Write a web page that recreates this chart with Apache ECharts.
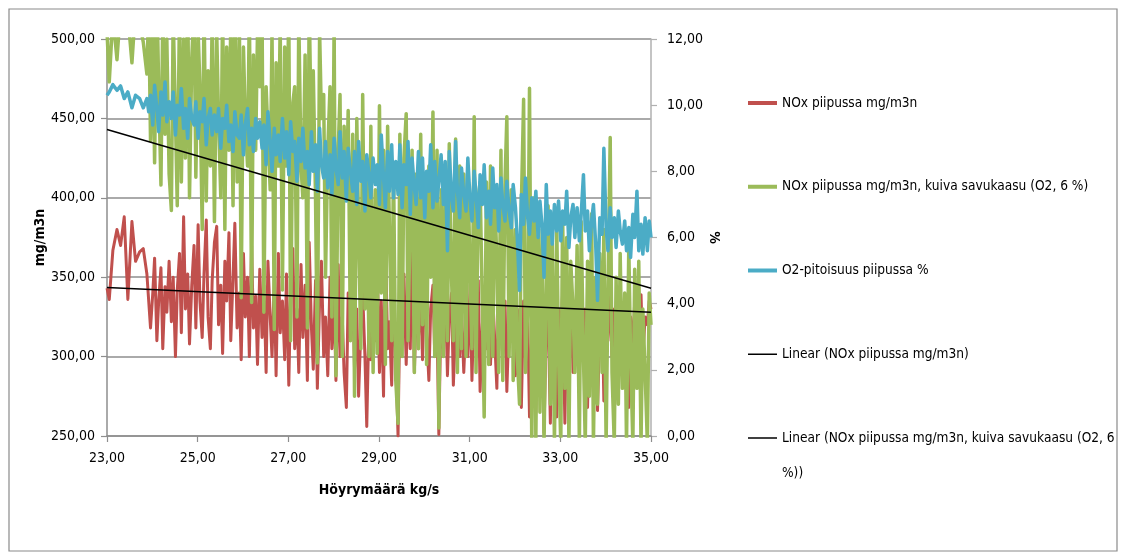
<!DOCTYPE html>
<html>
<head>
<meta charset="utf-8">
<script src="https://cdn.jsdelivr.net/npm/echarts@6/dist/echarts.min.js"></script>
<style>
  html, body { margin: 0; padding: 0; background: #ffffff; }
  #chart { width: 1123px; height: 557px; }
</style>
</head>
<body>
<div id="chart"></div>
<script>
// Steam flow (kg/s) at each sample
const steamFlow = [
  23.00, 23.05, 23.13, 23.22, 23.30, 23.38, 23.46, 23.55, 23.63, 23.72, 23.80, 23.88,
  23.92, 23.96, 24.01, 24.05, 24.10, 24.14, 24.19, 24.23, 24.28, 24.32, 24.37,
  24.42, 24.46, 24.51, 24.55, 24.60, 24.64, 24.69, 24.73, 24.78, 24.82, 24.87,
  24.92, 24.96, 25.01, 25.05, 25.10, 25.14, 25.19, 25.23, 25.28, 25.32, 25.37,
  25.42, 25.46, 25.51, 25.55, 25.60, 25.64, 25.69, 25.73, 25.78, 25.82, 25.87,
  25.92, 25.96, 26.01, 26.05, 26.10, 26.14, 26.19, 26.23, 26.28, 26.32, 26.37,
  26.42, 26.46, 26.51, 26.55, 26.60, 26.64, 26.69, 26.73, 26.78, 26.82, 26.87,
  26.92, 26.96, 27.01, 27.05, 27.10, 27.14, 27.19, 27.23, 27.28, 27.32, 27.37,
  27.42, 27.46, 27.51, 27.55, 27.60, 27.64, 27.69, 27.73, 27.78, 27.82, 27.87,
  27.92, 27.96, 28.01, 28.05, 28.10, 28.14, 28.19, 28.23, 28.28, 28.32, 28.37,
  28.42, 28.46, 28.51, 28.55, 28.60, 28.64, 28.69, 28.73, 28.78, 28.82, 28.87,
  28.92, 28.96, 29.01, 29.05, 29.10, 29.14, 29.19, 29.23, 29.28, 29.32, 29.37,
  29.42, 29.46, 29.51, 29.55, 29.60, 29.64, 29.69, 29.73, 29.78, 29.82, 29.87,
  29.92, 29.96, 30.01, 30.05, 30.10, 30.14, 30.19, 30.23, 30.28, 30.32, 30.37,
  30.42, 30.46, 30.51, 30.55, 30.60, 30.64, 30.69, 30.73, 30.78, 30.82, 30.87,
  30.92, 30.96, 31.01, 31.05, 31.10, 31.14, 31.19, 31.23, 31.28, 31.32, 31.37,
  31.42, 31.46, 31.51, 31.55, 31.60, 31.64, 31.69, 31.73, 31.78, 31.82, 31.87,
  31.92, 31.96, 32.01, 32.05, 32.10, 32.14, 32.19, 32.23, 32.28, 32.32, 32.37,
  32.42, 32.46, 32.51, 32.55, 32.60, 32.64, 32.69, 32.73, 32.78, 32.82, 32.87,
  32.92, 32.96, 33.01, 33.05, 33.10, 33.14, 33.19, 33.23, 33.28, 33.32, 33.37,
  33.42, 33.46, 33.51, 33.55, 33.60, 33.64, 33.69, 33.73, 33.78, 33.82, 33.87,
  33.92, 33.96, 34.01, 34.05, 34.10, 34.14, 34.19, 34.23, 34.28, 34.32, 34.37,
  34.42, 34.46, 34.51, 34.55, 34.60, 34.64, 34.69, 34.73, 34.78, 34.82, 34.87,
  34.92, 34.96, 35.00
];

// NOx in the stack, mg/m3n
const noxStack = [
  343, 336, 367, 380, 370, 388, 336, 385, 360, 366, 368, 352,
  352, 318, 340, 362, 310, 335, 356, 305, 344, 328, 360,
  322, 350, 300, 342, 365, 315, 388, 330, 352, 308, 345,
  370, 318, 383, 335, 312, 352, 386, 325, 305, 348, 372,
  382, 320, 345, 302, 360, 335, 378, 310, 350, 384, 318,
  340, 298, 365, 325, 350, 300, 370, 318, 338, 295, 355,
  312, 345, 290, 360, 325, 300, 348, 288, 365, 315, 335,
  298, 352, 282, 340, 368, 305, 330, 290, 358, 312, 345,
  285, 372, 318, 292, 348, 280, 335, 360, 300, 325, 288,
  350, 305, 338, 285, 358, 300, 325, 290, 268, 340, 312,
  345, 292, 330, 275, 318, 340, 300, 256, 325, 298, 338,
  310, 360, 290, 335, 275, 378, 305, 322, 282, 345, 300,
  250, 330, 310, 352, 295, 340, 305, 373, 290, 330, 312,
  340, 298, 352, 315, 285, 330, 345, 300, 320, 251, 335,
  305, 348, 288, 325, 340, 282, 318, 350, 300, 330, 290,
  325, 300, 345, 285, 335, 312, 348, 278, 320, 340, 305,
  330, 295, 338, 312, 280, 345, 318, 300, 335, 278, 325,
  310, 340, 288, 330, 318, 268, 335, 300, 325, 262, 315,
  338, 265, 325, 300, 340, 252, 320, 330, 258, 335, 310,
  262, 330, 315, 340, 258, 325, 305, 338, 290, 320, 335,
  318, 335, 300, 330, 268, 325, 348, 310, 332, 266, 320,
  335, 272, 325, 310, 340, 300, 330, 285, 334, 315, 328,
  310, 330, 268, 325, 305, 335, 337, 315, 339, 300, 325,
  320, 335, 330
];

// NOx in the stack, dry flue gas at O2 6 %, mg/m3n
const noxDry = [
  505, 473, 515, 487, 520, 510, 515, 485, 520, 510, 498, 478,
  520, 436, 505, 422, 530, 470, 408, 515, 440, 500, 415,
  392, 515, 450, 395, 520, 410, 500, 425, 530, 400, 488,
  520, 413, 505, 470, 380, 525, 398, 480, 420, 515, 385,
  505, 450, 400, 520, 380, 495, 430, 510, 395, 525, 410,
  510, 337, 495, 450, 420, 520, 334, 490, 430, 505, 470,
  520, 328, 470, 440, 405, 505, 317, 485, 420, 510, 342,
  495, 420, 520, 310, 460, 470, 325, 515, 420, 400, 490,
  318, 525, 430, 480, 400, 296, 505, 450, 465, 350, 430,
  470, 325, 510, 288, 430, 465, 300, 445, 400, 455, 310,
  440, 275, 450, 380, 305, 465, 330, 420, 300, 445, 290,
  405, 302, 458, 340, 430, 295, 445, 380, 310, 420, 285,
  258, 440, 300, 425, 453, 310, 390, 430, 290, 415, 305,
  440, 320, 410, 295, 420, 350, 454, 300, 430, 255, 405,
  300, 410, 310, 434, 350, 310, 437, 290, 420, 305, 415,
  300, 420, 350, 305, 451, 290, 400, 410, 330, 262, 410,
  295, 420, 300, 405, 360, 290, 430, 285, 410, 451, 300,
  405, 285, 380, 300, 270, 395, 462, 290, 330, 469, 245,
  400, 248, 390, 265, 380, 245, 340, 395, 270, 375, 245,
  385, 300, 245, 390, 280, 375, 245, 360, 330, 290, 370,
  245, 385, 300, 245, 360, 275, 390, 245, 350, 270, 365,
  290, 380, 245, 340, 438, 290, 245, 350, 270, 365, 280,
  340, 245, 370, 300, 245, 355, 280, 360, 245, 330, 290,
  245, 340, 320
];

// O2 content in the stack, %
const o2Stack = [
  10.30, 10.40, 10.62, 10.45, 10.58, 10.20, 10.40, 9.92, 10.30, 10.20, 9.92, 10.20,
  9.8, 10.3, 9.4, 10.6, 9.9, 9.2, 10.4, 9.7, 10.7, 9.5, 10.1,
  9.6, 10.4, 9.1, 10.0, 9.7, 10.5, 9.3, 9.9, 9.0, 10.2, 9.6,
  9.4, 10.1, 9.0, 9.8, 9.5, 10.2, 8.8, 9.6, 9.9, 9.1, 9.7,
  9.2, 9.9, 8.7, 9.6, 9.3, 10.0, 8.9, 9.4, 8.6, 9.8, 9.1,
  9.0, 9.7, 8.5, 9.4, 9.9, 8.8, 9.3, 8.6, 9.6, 9.0, 9.5,
  8.7, 9.4, 8.2, 9.8, 8.9, 8.0, 9.3, 8.5, 9.1, 8.3, 9.6,
  8.4, 9.2, 7.9, 9.5, 8.6, 8.9, 7.7, 9.0, 8.3, 9.3, 8.1,
  8.6, 7.6, 9.2, 8.0, 8.8, 7.4, 9.3, 8.2, 7.8, 8.9, 7.5,
  8.5, 7.3, 9.0, 8.1, 7.6, 9.2, 7.8, 8.6, 7.1, 8.7, 8.0,
  7.4, 8.6, 7.0, 8.9, 7.7, 8.3, 6.8, 8.5, 7.9, 7.2, 8.4,
  7.6, 8.2, 7.0, 9.1, 7.8, 6.9, 8.6, 7.4, 8.8, 7.2, 8.3,
  7.3, 8.8, 6.9, 8.2, 7.6, 8.9, 6.7, 8.4, 7.5, 7.0, 8.6,
  7.2, 8.4, 6.6, 8.0, 7.4, 8.8, 6.9, 8.3, 7.1, 7.7, 8.5,
  7.0, 8.3, 5.6, 8.6, 7.2, 6.8, 8.9, 7.4, 6.6, 8.1, 7.3,
  6.8, 8.4, 7.1, 6.5, 8.0, 7.3, 6.3, 7.9, 7.0, 8.2, 6.6,
  7.4, 6.4, 8.1, 6.9, 7.6, 6.2, 7.8, 7.0, 6.5, 7.7, 6.8,
  6.3, 7.6, 6.9, 6.0, 4.4, 7.3, 6.4, 7.8, 6.6, 6.1, 7.2,
  6.5, 7.4, 6.0, 7.1, 6.3, 4.8, 7.6, 6.1, 6.8, 5.8, 7.0,
  6.2, 7.1, 5.9, 6.8, 6.4, 7.4, 5.7, 6.6, 7.0, 6.0, 6.9,
  5.9, 6.7, 7.9, 6.2, 6.8, 5.6, 6.5, 7.0, 5.8, 4.1, 6.6,
  6.1, 8.7, 6.3, 5.6, 6.9, 6.0, 6.6, 5.7, 6.8, 6.2, 5.8,
  6.5, 5.6, 6.3, 5.4, 6.7, 6.0, 7.4, 5.6, 6.4, 5.5, 6.6,
  5.6, 6.5, 6.0
];

// Linear trend end points [steam flow, mg/m3n]
const trendNoxStack = [[23, 343.5], [35, 328]];
const trendNoxDry = [[23, 443], [35, 343]];

// Axis ranges
const xTicks = { min: 23, max: 35, interval: 2 };
const leftTicks = { min: 250, max: 500, interval: 50 };
const rightTicks = { min: 0, max: 12, interval: 2 };

const NAME_NOX = 'NOx piipussa mg/m3n';
const NAME_DRY = 'NOx piipussa mg/m3n, kuiva savukaasu (O2, 6 %)';
const NAME_O2 = 'O2-pitoisuus piipussa %';
const NAME_LIN_NOX = 'Linear (NOx piipussa mg/m3n)';
const NAME_LIN_DRY = 'Linear (NOx piipussa mg/m3n, kuiva savukaasu (O2, 6 %))';

const FONT = '"Liberation Sans Narrow", "DejaVu Sans Condensed", "Open Sans", sans-serif';
const FS = 14;
const LEGEND_FS = 13.6;
const GRID_GREY = '#8e8e8e';
const ICON_THICK = 'path://M0,0H29V4H0Z';
const ICON_THIN = 'path://M0,0H29V1.5H0Z';

const pair = (vals) => steamFlow.map((x, i) => [x, vals[i]]);
const fmt2 = (v) => v.toFixed(2).replace('.', ',');

const chart = echarts.init(document.getElementById('chart'), null, { renderer: 'canvas' });

const lineSeries = (name, data, color, width, yIdx, z) => ({
  name, type: 'line', data, yAxisIndex: yIdx,
  symbol: 'none', showSymbol: false, clip: true,
  lineStyle: { color, width, join: 'round' },
  itemStyle: { color },
  emphasis: { disabled: true },
  z: z || 2
});

const legendBase = {
  orient: 'vertical', left: 748, padding: 0,
  itemWidth: 29, itemHeight: 14, itemGap: 48.75,
  selectedMode: false, symbolKeepAspect: true,
  textStyle: { fontFamily: FONT, fontSize: LEGEND_FS, color: '#000000', lineHeight: 35 }
};

chart.setOption({
  animation: false,
  backgroundColor: '#ffffff',
  textStyle: { fontFamily: FONT },
  grid: { left: 107, right: 472, top: 39, bottom: 121, containLabel: false },
  graphic: [{
    type: 'rect', silent: true, z: -1,
    shape: { x: 9, y: 9, width: 1108, height: 542 },
    style: { fill: 'none', stroke: '#8a8a8a', lineWidth: 1.2 }
  }],
  legend: [
    Object.assign({}, legendBase, {
      top: 85.5,
      data: [
        { name: NAME_NOX, icon: ICON_THICK },
        { name: NAME_DRY, icon: ICON_THICK },
        { name: NAME_O2, icon: ICON_THICK },
        { name: NAME_LIN_NOX, icon: ICON_THIN }
      ]
    }),
    Object.assign({}, legendBase, {
      top: 385.5,
      data: [{ name: NAME_LIN_DRY, icon: ICON_THIN }],
      // wrapped label; the empty first line keeps the icon level with the first text line
      formatter: () => '\nLinear (NOx piipussa mg/m3n, kuiva savukaasu (O2, 6\n%))'
    })
  ],
  xAxis: {
    type: 'value', min: xTicks.min, max: xTicks.max, interval: xTicks.interval,
    name: 'Höyrymäärä kg/s', nameLocation: 'middle', nameGap: 47,
    nameTextStyle: { fontFamily: FONT, fontSize: FS, fontWeight: 'bold', color: '#000000' },
    axisLine: { show: true, onZero: false, lineStyle: { color: GRID_GREY, width: 1.5 } },
    axisTick: { show: true, length: 6, lineStyle: { color: GRID_GREY, width: 1.2 } },
    axisLabel: { margin: 15, fontSize: FS, color: '#000000', formatter: fmt2 },
    splitLine: { show: false }
  },
  yAxis: [{
    type: 'value', position: 'left',
    min: leftTicks.min, max: leftTicks.max, interval: leftTicks.interval,
    name: 'mg/m3n', nameLocation: 'middle', nameGap: 56,
    nameTextStyle: { fontFamily: FONT, fontSize: FS, fontWeight: 'bold', color: '#000000' },
    axisLine: { show: true, lineStyle: { color: GRID_GREY, width: 1.5 } },
    axisTick: { show: true, length: 6, lineStyle: { color: GRID_GREY, width: 1.2 } },
    axisLabel: { margin: 12, fontSize: FS, color: '#000000', formatter: fmt2 },
    splitLine: { show: true, lineStyle: { color: GRID_GREY, width: 1.5 } }
  }, {
    type: 'value', position: 'right',
    min: rightTicks.min, max: rightTicks.max, interval: rightTicks.interval,
    name: '%', nameLocation: 'middle', nameGap: 54, nameRotate: -90,
    nameTextStyle: { fontFamily: FONT, fontSize: FS, fontWeight: 'bold', color: '#000000' },
    axisLine: { show: true, lineStyle: { color: '#b0b0b0', width: 1.5 } },
    axisTick: { show: true, length: 6, lineStyle: { color: '#b0b0b0', width: 1.2 } },
    axisLabel: { margin: 16, fontSize: FS, color: '#000000', formatter: fmt2 },
    splitLine: { show: false }
  }],
  series: [
    lineSeries(NAME_NOX, pair(noxStack), '#C0504D', 3, 0),
    lineSeries(NAME_DRY, pair(noxDry), '#9BBB59', 3.5, 0),
    lineSeries(NAME_O2, pair(o2Stack), '#4BACC6', 3.5, 1),
    lineSeries(NAME_LIN_NOX, trendNoxStack, '#000000', 1.5, 0, 3),
    lineSeries(NAME_LIN_DRY, trendNoxDry, '#000000', 1.5, 0, 3)
  ]
});
</script>
</body>
</html>
